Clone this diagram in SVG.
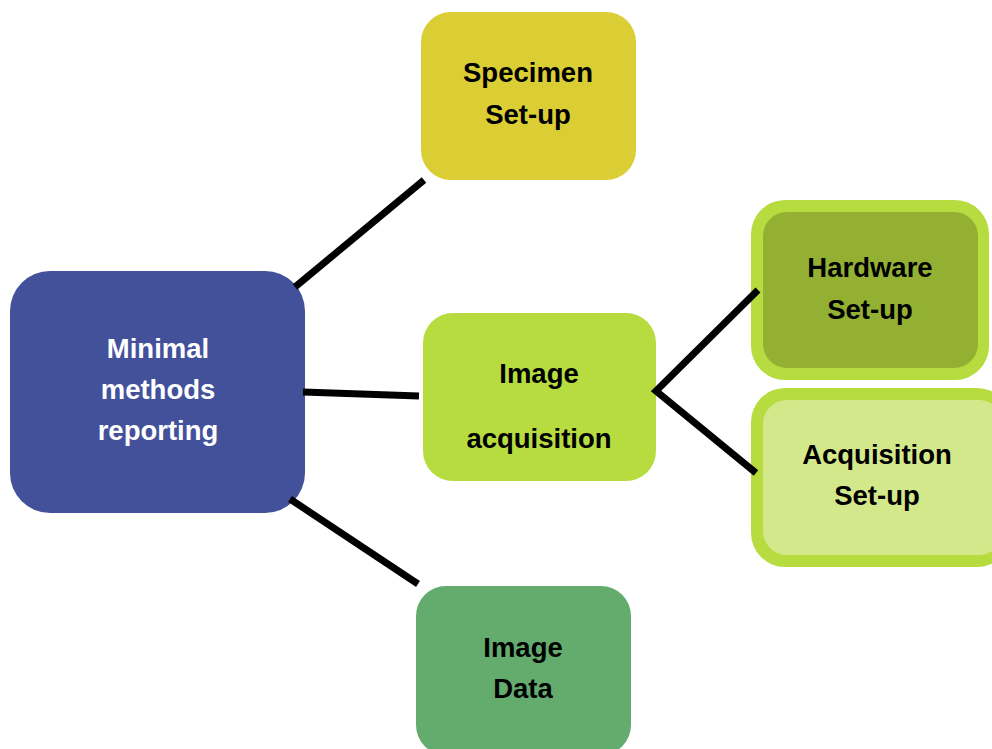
<svg xmlns="http://www.w3.org/2000/svg" width="992" height="749" viewBox="0 0 992 749">
<style>
.t{font-family:"Liberation Sans",Arial,sans-serif;font-weight:bold;font-size:27.5px;text-anchor:middle;fill:#000}
.w{fill:#fff}
.c{stroke:#000;stroke-width:7;fill:none;stroke-linecap:butt}
</style>
<rect width="992" height="749" fill="#fff"/>
<g id="central">
<rect x="10" y="271" width="295" height="242" rx="40" fill="#43519B"/>
<text class="t w" x="158" y="358">Minimal</text>
<text class="t w" x="158" y="399">methods</text>
<text class="t w" x="158" y="440">reporting</text>
</g>
<g id="specimen">
<rect x="421" y="12" width="215" height="168" rx="30" fill="#DBCD34"/>
<text class="t" x="528" y="82">Specimen</text>
<text class="t" x="528" y="124">Set-up</text>
</g>
<g id="image-acquisition">
<rect x="423" y="313" width="233" height="168" rx="30" fill="#B6DC3F"/>
<text class="t" x="539" y="383">Image</text>
<text class="t" x="539" y="448">acquisition</text>
</g>
<g id="image-data">
<rect x="416" y="586" width="215" height="169" rx="30" fill="#63AC6D"/>
<text class="t" x="523" y="657">Image</text>
<text class="t" x="523" y="698">Data</text>
</g>
<g id="hardware">
<rect x="751" y="200" width="238" height="180" rx="34" fill="#B6DC3F"/>
<rect x="763" y="212" width="215" height="156" rx="24" fill="#94B033"/>
<text class="t" x="870" y="277">Hardware</text>
<text class="t" x="870" y="319">Set-up</text>
</g>
<g id="acquisition-setup">
<rect x="751" y="388" width="260" height="179" rx="34" fill="#B6DC3F"/>
<rect x="763" y="400" width="240" height="155" rx="24" fill="#D3E88A"/>
<text class="t" x="877" y="464">Acquisition</text>
<text class="t" x="877" y="505">Set-up</text>
</g>
<g id="connectors">
<line class="c" x1="295" y1="287" x2="424" y2="180"/>
<line class="c" x1="303" y1="392" x2="419" y2="396"/>
<line class="c" x1="290" y1="499" x2="418" y2="584"/>
<polyline class="c" points="758,290 656,391 756,473"/>
</g>
</svg>
